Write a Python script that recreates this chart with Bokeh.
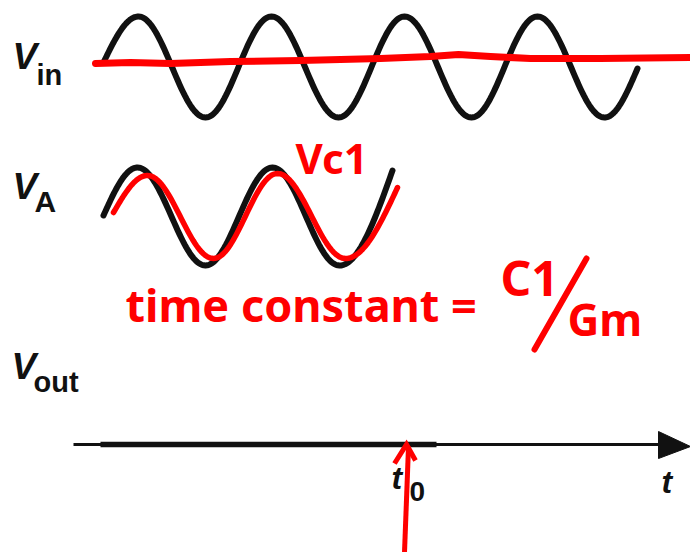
import numpy as np
from bokeh.plotting import figure
from bokeh.models import Range1d
from bokeh.core.properties import value
from bokeh.embed import file_html
from bokeh.resources import INLINE

W, H = 690, 552
BLACK = "#111111"
RED = "#ff0000"

# Turning points (peaks / troughs plus the two free ends) of each waveform,
# in page pixels with y growing downward.
vin_x = [103, 138, 205, 271, 338, 404, 471, 537, 604, 637]
vin_y = [62, 16, 117, 16, 117, 16, 117, 16, 117, 68]

va_x = [103, 137, 205, 272, 339, 392]
va_y = [215, 167, 265, 167, 265, 170]

vc1_x = [113, 147, 213, 277, 345, 397]
vc1_y = [212, 175, 258, 173, 258, 187]

# Hand-drawn flat line across the input trace
red_flat_x = [95, 130, 170, 230, 300, 380, 430, 458, 490, 530, 600, 690]
red_flat_y = [63, 62, 63, 61, 60, 58, 56, 54, 56, 58, 58, 57]

# Time axis
axis_x = [73, 660]
axis_thick_x = [100, 436]
axis_y = 444
arrow_x = [658, 690, 658]
arrow_y = [431, 446, 458]

# Hand-drawn marker arrow pointing at t0
marker_x = [404, 408]
marker_y = [552, 446]
marker_head_x = [394, 406, 415]
marker_head_y = [463, 444, 460]

# Slash of the C1/Gm fraction
slash_x = [586, 534]
slash_y = [258, 349]


def eased_path(xs, ys, n=40):
    """Smooth path through turning points: half-cosine between extremes,
    quarter-cosine for the partial first and last pieces."""
    px, py = [], []
    last = len(xs) - 2
    for i in range(len(xs) - 1):
        t = np.linspace(0.0, 1.0, n)
        if i == 0:
            s = np.sin(np.pi * t / 2)
        elif i == last:
            s = 1 - np.cos(np.pi * t / 2)
        else:
            s = (1 - np.cos(np.pi * t)) / 2
        px.extend(xs[i] + (xs[i + 1] - xs[i]) * t)
        py.extend(ys[i] + (ys[i + 1] - ys[i]) * s)
    return px, py


def put_text(fig, x, baseline, txt, size, **kw):
    # the SVG backend draws "alphabetic" text about a third of the font size low
    fig.text([x], [baseline - 0.32 * size], text=[txt], text_font_size=f"{size}px",
             text_baseline="alphabetic", text_align="left", **kw)


p = figure(width=W, height=H, output_backend="svg", toolbar_location=None,
           x_range=Range1d(0, W), y_range=Range1d(H, 0),
           min_border=0, outline_line_color=None, background_fill_color="white")
p.axis.visible = False
p.grid.visible = False

# Black waveforms
x, y = eased_path(vin_x, vin_y)
p.line(x, y, line_color=BLACK, line_width=6, line_cap="round", line_join="round")
x, y = eased_path(va_x, va_y)
p.line(x, y, line_color=BLACK, line_width=6, line_cap="round", line_join="round")

# Time axis with arrow
p.line(axis_x, [axis_y, axis_y], line_color=BLACK, line_width=3)
p.line(axis_thick_x, [axis_y, axis_y], line_color=BLACK, line_width=5.5)
p.patch(arrow_x, arrow_y, fill_color=BLACK, line_color=BLACK)

# Signal labels
lab = dict(text_color=BLACK, text_font=value("Liberation Sans"))
put_text(p, 12, 68, "V", 37, text_font_style="bold italic", **lab)
put_text(p, 36, 84, "in", 29, text_font_style="bold", **lab)
put_text(p, 12, 198, "V", 37, text_font_style="bold italic", **lab)
put_text(p, 34, 211, "A", 30, text_font_style="bold", **lab)
put_text(p, 11, 378, "V", 37, text_font_style="bold italic", **lab)
put_text(p, 33, 391, "out", 29, text_font_style="bold", **lab)
put_text(p, 391, 488, "t", 32, text_font_style="bold italic", **lab)
put_text(p, 409, 500, "0", 28, text_font_style="bold", **lab)
put_text(p, 661, 492, "t", 32, text_font_style="bold italic", **lab)

# Red annotations
p.line(red_flat_x, red_flat_y, line_color=RED, line_width=7, line_cap="round", line_join="round")
x, y = eased_path(vc1_x, vc1_y)
p.line(x, y, line_color=RED, line_width=5.5, line_cap="round", line_join="round")
p.line(marker_x, marker_y, line_color=RED, line_width=5)
p.line(marker_head_x, marker_head_y, line_color=RED, line_width=5, line_join="miter")
p.line(slash_x, slash_y, line_color=RED, line_width=6, line_cap="round")

note = dict(text_color=RED, text_font=value("Noto Sans"), text_font_style="bold")
put_text(p, 295, 170, "Vc1", 42, **note)
put_text(p, 125, 318, "time constant =", 45, **note)
put_text(p, 500, 292, "C1", 48, **note)
put_text(p, 567, 333, "Gm", 44, **note)

open("out.html", "w").write(file_html(p, INLINE))
